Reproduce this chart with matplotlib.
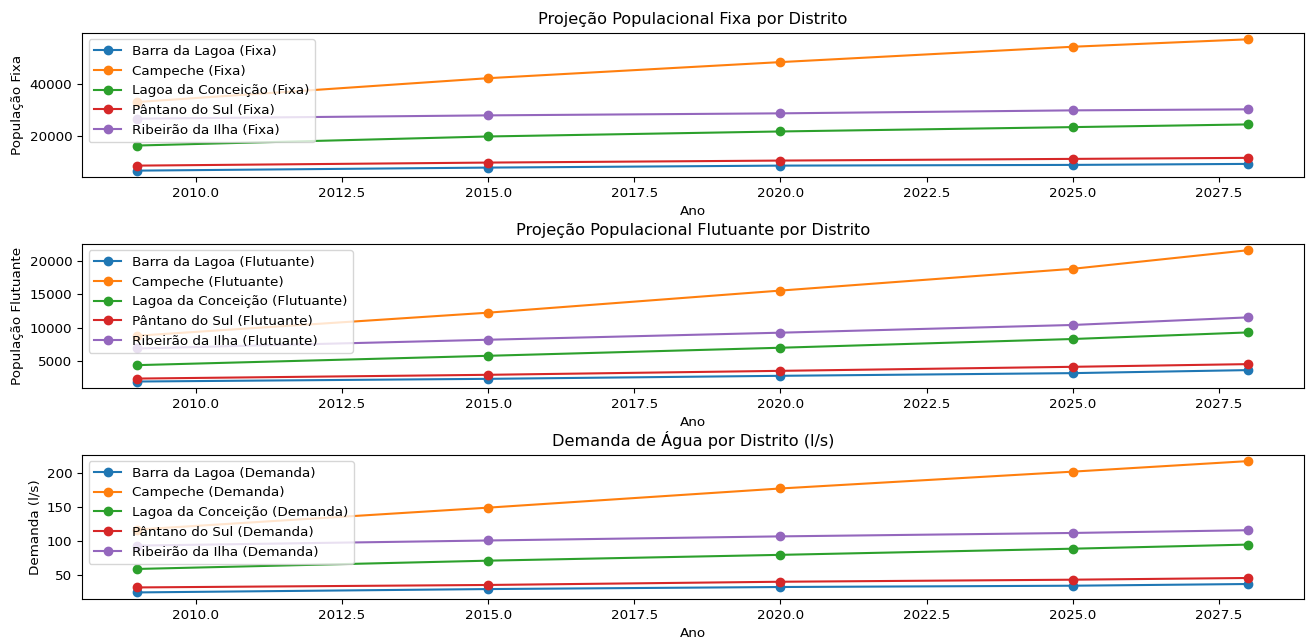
import matplotlib
matplotlib.use("Agg")
import matplotlib.pyplot as plt

plt.rcParams["font.size"] = 9.7

anos = [2009, 2015, 2020, 2025, 2028]
distritos = ["Barra da Lagoa", "Campeche", "Lagoa da Conceição",
             "Pântano do Sul", "Ribeirão da Ilha"]

# população fixa
fixa_barra = [7050, 8200, 8950, 9220, 9600]
fixa_campeche = [33070, 42100, 48200, 54020, 56840]
fixa_lagoa = [16570, 20000, 21900, 23550, 24570]
fixa_pantano = [8950, 10100, 10860, 11500, 11890]
fixa_ribeirao = [26750, 28000, 28770, 29900, 30290]

# população flutuante
flut_barra = [1990, 2390, 2840, 3240, 3690]
flut_campeche = [8810, 12240, 15530, 18770, 21540]
flut_lagoa = [4430, 5820, 7020, 8320, 9300]
flut_pantano = [2430, 2990, 3580, 4180, 4580]
flut_ribeirao = [6910, 8210, 9260, 10410, 11540]

# demanda de água (l/s)
dem_barra = [25.1, 30.0, 33.0, 34.9, 37.4]
dem_campeche = [117, 149, 177, 201.6, 217]
dem_lagoa = [59.4, 71.5, 80, 89, 95]
dem_pantano = [32.4, 36, 40.7, 43.7, 46.2]
dem_ribeirao = [93.5, 101, 107, 112, 116]

paineis = [
    ("Projeção Populacional Fixa por Distrito", "População Fixa", "Fixa",
     [fixa_barra, fixa_campeche, fixa_lagoa, fixa_pantano, fixa_ribeirao]),
    ("Projeção Populacional Flutuante por Distrito", "População Flutuante", "Flutuante",
     [flut_barra, flut_campeche, flut_lagoa, flut_pantano, flut_ribeirao]),
    ("Demanda de Água por Distrito (l/s)", "Demanda (l/s)", "Demanda",
     [dem_barra, dem_campeche, dem_lagoa, dem_pantano, dem_ribeirao]),
]

fig, axes = plt.subplots(3, 1, figsize=(13.11, 6.42), dpi=100)
fig.subplots_adjust(left=0.0625, right=0.9944, top=0.949, bottom=0.067, hspace=0.46)

for ax, (titulo, ylabel, sufixo, series) in zip(axes, paineis):
    for nome, valores in zip(distritos, series):
        ax.plot(anos, valores, marker="o", label=f"{nome} ({sufixo})")
    ax.set_title(titulo)
    ax.set_xlabel("Ano")
    ax.set_ylabel(ylabel)
    ax.legend(loc="upper left")

fig.savefig("out.png")
